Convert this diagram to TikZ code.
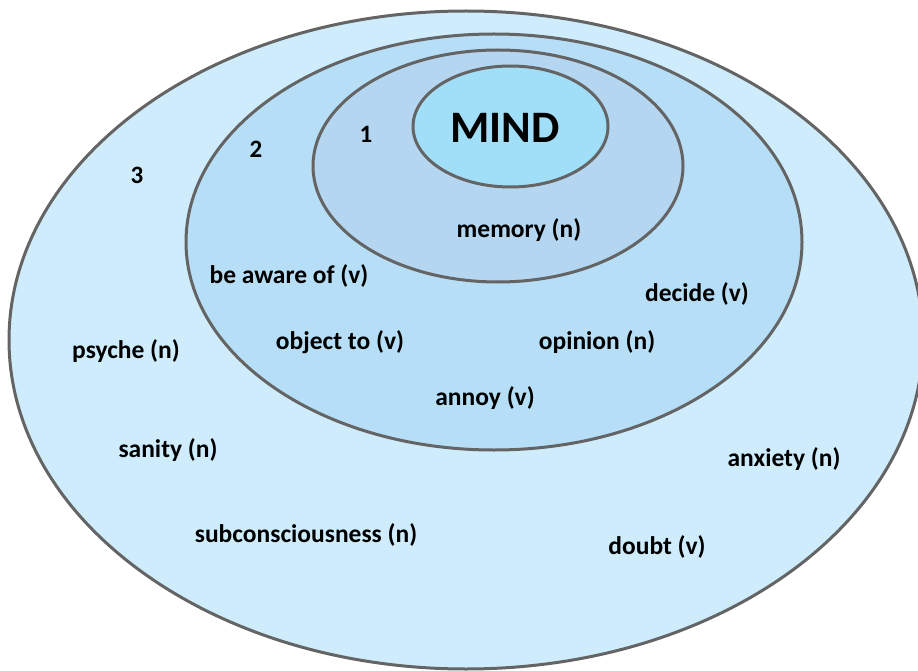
\documentclass[tikz,border=0pt]{standalone}
\usepackage{fontspec}
\setmainfont{Carlito}
\usetikzlibrary{shapes.geometric}
\definecolor{ring3}{RGB}{206,236,252}
\definecolor{ring2}{RGB}{182,223,247}
\definecolor{ring1}{RGB}{180,214,240}
\definecolor{core}{RGB}{160,223,247}
\definecolor{edge}{RGB}{100,100,100}
\tikzset{
  ring/.style={ellipse, draw=edge, line width=3pt, inner sep=0pt},
  lbl/.style={anchor=base, inner sep=0pt, font=\fontsize{25.5}{25.5}\selectfont\bfseries},
  num/.style={anchor=base, inner sep=0pt, font=\fontsize{25}{25}\selectfont\bfseries}
}
\begin{document}
\begin{tikzpicture}[x=1pt,y=-1pt]
\useasboundingbox (0,0) rectangle (918,671);
\clip (0,0) rectangle (918,671);
\node[ring, fill=ring3, minimum width=914pt, minimum height=658pt] (r3) at (466,340) {};
\node[ring, fill=ring2, minimum width=616pt, minimum height=416pt] (r2) at (494,242) {};
\node[ring, fill=ring1, minimum width=370pt, minimum height=232pt] (r1) at (498,166) {};
\node[ring, fill=core, minimum width=195pt, minimum height=121pt] (core) at (510.5,126.5) {};
\node[anchor=base, inner sep=0pt, font=\fontsize{45}{45}\selectfont\bfseries] (mind) at (505,143) {MIND};
\node[num] (n1) at (366,143) {1};
\node[num] (n2) at (256,158) {2};
\node[num] (n3) at (137,184) {3};
\node[lbl] (memory) at (519,237) {memory (n)};
\node[lbl] (aware) at (289,283) {be aware of (v)};
\node[lbl] (decide) at (697,301) {decide (v)};
\node[lbl] (object) at (340,349) {object to (v)};
\node[lbl] (opinion) at (597,349) {opinion (n)};
\node[lbl] (annoy) at (485,405) {annoy (v)};
\node[lbl] (psyche) at (126,358) {psyche (n)};
\node[lbl] (sanity) at (168,457) {sanity (n)};
\node[lbl] (anxiety) at (784,466) {anxiety (n)};
\node[lbl] (subc) at (306,542) {subconsciousness (n)};
\node[lbl] (doubt) at (657,554) {doubt (v)};
\end{tikzpicture}
\end{document}
